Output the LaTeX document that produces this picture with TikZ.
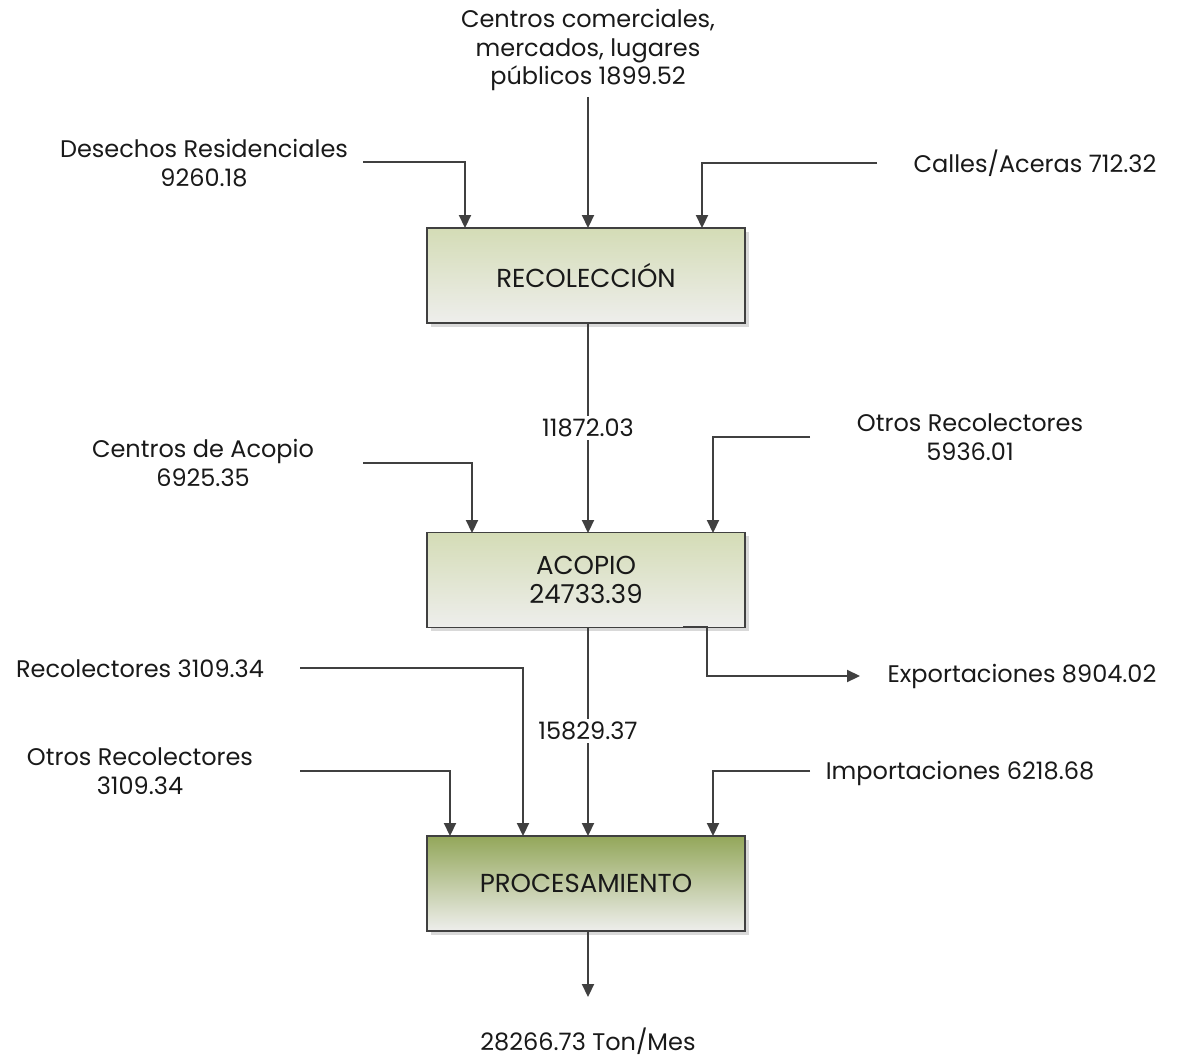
\documentclass[tikz,border=0pt]{standalone}
\usepackage{fontspec}
\setmainfont{Poppins}
\usetikzlibrary{arrows.meta,shadows}
\definecolor{linec}{HTML}{404040}
\definecolor{lgreen}{HTML}{D4DCB6}
\definecolor{dgreen}{HTML}{93A75A}
\definecolor{bgrey}{HTML}{EEEEEC}
\tikzset{
  flow/.style={draw=linec,line width=2.2pt,-{Triangle[length=13pt,width=12pt]}},
  procbox/.style={draw=linec,line width=1.3pt,minimum width=318pt,minimum height=95pt,
     align=center,font=\fontsize{26}{29}\selectfont,text=black!90,
     drop shadow={shadow xshift=3.5pt,shadow yshift=-3.5pt,fill=black!15,opacity=1}},
  lbl/.style={align=center,font=\fontsize{24}{28.5}\selectfont,text=black!90,inner sep=2pt},
  onlbl/.style={lbl,fill=white,inner sep=3pt}
}
\begin{document}
\begin{tikzpicture}[x=1pt,y=-1pt]
\useasboundingbox (0,0) rectangle (1179,1057);
% boxes
\node[procbox,top color=lgreen,bottom color=bgrey] (rec) at (586,275.5) {RECOLECCIÓN};
\node[procbox,top color=lgreen,bottom color=bgrey] (aco) at (586,580) {ACOPIO\\24733.39};
\node[procbox,top color=dgreen,bottom color=bgrey] (pro) at (586,883.5) {PROCESAMIENTO};
% labels
\node[lbl] (cc) at (588,50) {Centros comerciales,\\mercados, lugares\\públicos 1899.52};
\node[lbl] (dr) at (204,163) {Desechos Residenciales\\9260.18};
\node[lbl] (ca) at (1035,163) {Calles/Aceras 712.32};
\node[lbl] (cda) at (203,463) {Centros de Acopio\\6925.35};
\node[lbl] (or1) at (970,437) {Otros Recolectores\\5936.01};
\node[lbl] (rc) at (140,669) {Recolectores 3109.34};
\node[lbl] (exp) at (1022,676) {Exportaciones 8904.02};
\node[lbl] (or2) at (140,771) {Otros Recolectores\\3109.34};
\node[lbl] (imp) at (960,773) {Importaciones 6218.68};
\node[lbl] (out) at (588,1041) {28266.73 Ton/Mes};
% coordinates
\coordinate (ccs) at (588,97);
\coordinate (drs) at (363,162);
\coordinate (cas) at (877,163);
\coordinate (cdas) at (363,463);
\coordinate (or1s) at (810,437);
\coordinate (rcs) at (300,668);
\coordinate (or2s) at (300,771);
\coordinate (imps) at (810,771);
\coordinate (exps) at (683,627);
\coordinate (expe) at (860,676);
\coordinate (outp) at (588,997);
% connectors into RECOLECCIÓN
\draw[flow] (ccs) -- (588,228);
\draw[flow] (drs) -| (465,228);
\draw[flow] (cas) -| (702,228);
% RECOLECCIÓN -> ACOPIO
\draw[flow] (588,323) -- (588,533);
\node[onlbl] (l1) at (588,428) {11872.03};
\draw[flow] (cdas) -| (472,533);
\draw[flow] (or1s) -| (713,533);
% exports
\draw[flow] (exps) -- (707,627) |- (expe);
% ACOPIO -> PROCESAMIENTO
\draw[flow] (588,627) -- (588,836);
\node[onlbl] (l2) at (588,731) {15829.37};
\draw[flow] (rcs) -| (523,836);
\draw[flow] (or2s) -| (450,836);
\draw[flow] (imps) -| (713,836);
% output
\draw[flow] (588,931) -- (outp);
\end{tikzpicture}
\end{document}
